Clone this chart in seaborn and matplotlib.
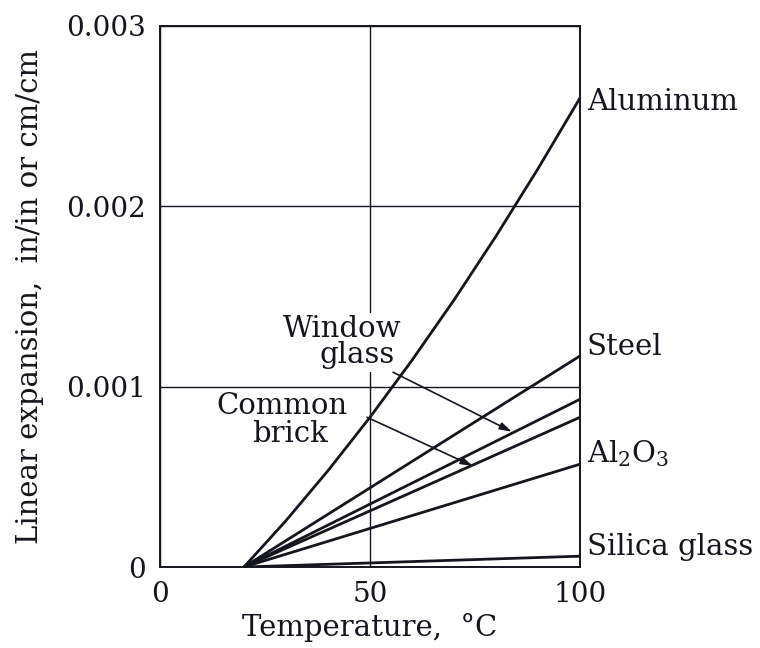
import numpy as np
import pandas as pd
import matplotlib
matplotlib.use("Agg")
import matplotlib.pyplot as plt
import seaborn as sns

# ---- data ----
al_temp = [20, 30, 40, 50, 60, 70, 80, 90, 100]
al_exp = [0.0, 0.000257, 0.000534, 0.00083, 0.001146, 0.00148, 0.001834, 0.002208, 0.00260]

lin_temp = [20, 100]
steel_exp = [0.0, 0.00117]
window_exp = [0.0, 0.00093]
brick_exp = [0.0, 0.00083]
alumina_exp = [0.0, 0.00057]
silica_exp = [0.0, 0.00006]

x_ticks = [0, 50, 100]
x_ticklabels = ["0", "50", "100"]
y_ticks = [0, 0.001, 0.002, 0.003]
y_ticklabels = ["0", "0.001", "0.002", "0.003"]

end_labels = ["Aluminum", "Steel", "Al$_2$O$_3$", "Silica glass"]

# ---- long-form table ----
frames = [pd.DataFrame({"temp": al_temp, "exp": al_exp, "material": "Aluminum"})]
for name, vals in [("Steel", steel_exp), ("Window glass", window_exp),
                   ("Common brick", brick_exp), ("Al2O3", alumina_exp),
                   ("Silica glass", silica_exp)]:
    frames.append(pd.DataFrame({"temp": lin_temp, "exp": vals, "material": name}))
df = pd.concat(frames, ignore_index=True)

sns.set_theme(style="white")
plt.rcParams["font.family"] = ["DejaVu Serif"]
plt.rcParams["mathtext.fontset"] = "dejavuserif"

ink = "#15151f"
fs = 21
fs_tick = 20

fig = plt.figure(figsize=(7.6, 6.48), dpi=100)
ax = fig.add_axes([0.2105, 0.125, 0.5526, 0.835])

sns.lineplot(data=df, x="temp", y="exp", units="material", estimator=None,
             color=ink, lw=2.0, sort=False, ax=ax, zorder=4)

ax.set_xlim(0, 100)
ax.set_ylim(0, 0.003)
ax.set_xticks(x_ticks)
ax.set_xticklabels(x_ticklabels)
ax.set_yticks(y_ticks)
ax.set_yticklabels(y_ticklabels)
ax.tick_params(length=0, pad=10, labelsize=fs_tick, colors=ink)
for s in ax.spines.values():
    s.set_visible(True)
    s.set_color(ink)
    s.set_linewidth(1.4)
ax.grid(True, color=ink, lw=1.0)
ax.set_axisbelow(True)

ax.set_xlabel("Temperature,  °C", fontsize=fs, color=ink)
ax.set_ylabel("Linear expansion,  in/in or cm/cm", fontsize=fs, color=ink)
ax.xaxis.set_label_coords(0.5, -0.085)
ax.yaxis.set_label_coords(-0.275, 0.5)

# right-hand labels
label_y = [0.00258, 0.00122, 0.00063, 0.00011]
for txt, yy in zip(end_labels, label_y):
    ax.annotate(txt, xy=(100, yy), xytext=(5, 0), textcoords="offset points",
                ha="left", va="center", fontsize=fs, color=ink,
                annotation_clip=False)

# in-plot labels with arrows
wb = dict(facecolor="white", edgecolor="none", pad=2.0)
ax.text(57.5, 0.001317, "Window", ha="right", va="center", fontsize=fs,
        color=ink, zorder=3, bbox=wb)
ax.text(56.0, 0.001175, "glass", ha="right", va="center", fontsize=fs,
        color=ink, zorder=3, bbox=wb)
ax.text(29.0, 0.00089, "Common", ha="center", va="center", fontsize=fs,
        color=ink, zorder=3)
ax.text(31.0, 0.00074, "brick", ha="center", va="center", fontsize=fs,
        color=ink, zorder=3)

arrow = dict(arrowstyle="-|>,head_length=0.6,head_width=0.18", lw=1.2,
             color=ink, shrinkA=0, shrinkB=0)
ax.annotate("", xy=(83.8, 0.00075), xytext=(55.5, 0.00108),
            arrowprops=arrow, zorder=5)
ax.annotate("", xy=(74.5, 0.00056), xytext=(49.3, 0.00083),
            arrowprops=arrow, zorder=5)

fig.savefig("out.png", dpi=100)
